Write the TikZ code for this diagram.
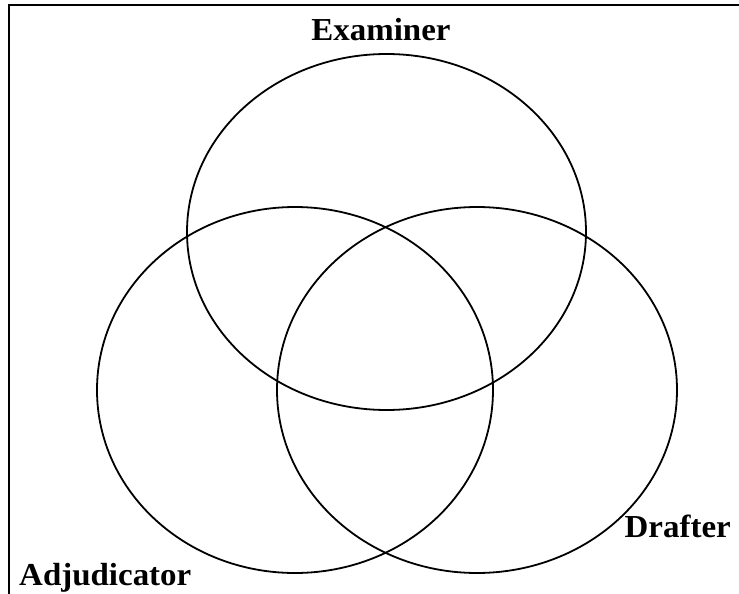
\documentclass[tikz,border=0pt]{standalone}
\usepackage{fontspec}
\setmainfont{Liberation Serif}
\usetikzlibrary{calc}

\begin{document}
\begin{tikzpicture}[x=1pt,y=-1pt,
  venn/.style={line width=1.8pt},
  frameline/.style={line width=1.4pt},
  lbl/.style={font=\fontsize{32}{34}\selectfont\bfseries,inner sep=0pt,xscale=1.03}]
  \useasboundingbox (0,0) rectangle (739,594);
  \coordinate (E) at (386.5,232);
  \coordinate (A) at (295,390);
  \coordinate (D) at (477,390);
  \coordinate (FL) at (9,594);
  \coordinate (FC) at (9,5);
  \coordinate (FR) at (739,5);
  \draw[frameline] (FL) -- (FC) -- (FR);
  \draw[venn] (E) ellipse [x radius=199.5, y radius=178];
  \draw[venn] (A) ellipse [x radius=198, y radius=183];
  \draw[venn] (D) ellipse [x radius=200, y radius=183];
  \node[lbl,anchor=base] (ex) at (381,41) {Examiner};
  \node[lbl,anchor=base west] (ad) at (19,585) {Adjudicator};
  \node[lbl,anchor=base east] (dr) at (731,537) {Drafter};
\end{tikzpicture}
\end{document}
